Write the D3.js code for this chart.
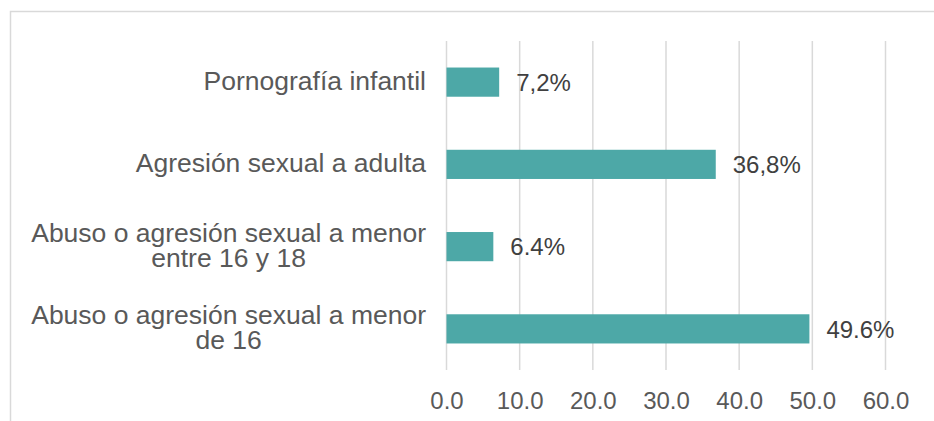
<!DOCTYPE html>
<html>
<head>
<meta charset="utf-8">
<script src="https://cdn.jsdelivr.net/npm/d3@7"></script>
<style>
  html, body { margin: 0; padding: 0; background: #fff; }
  svg { display: block; font-family: "Liberation Sans", Arial, sans-serif; }
</style>
</head>
<body>
<svg id="chart" width="934" height="421"></svg>
<script>
const categories = [
  ["Pornografía infantil"],
  ["Agresión sexual a adulta"],
  ["Abuso o agresión sexual a menor", "entre 16 y 18"],
  ["Abuso o agresión sexual a menor", "de 16"]
];
const values = [7.2, 36.8, 6.4, 49.6];
const valueLabels = ["7,2%", "36,8%", "6.4%", "49.6%"];
const ticks = [0, 10, 20, 30, 40, 50, 60];

const svg = d3.select("#chart");

// outer frame
svg.append("rect")
  .attr("x", 10.5).attr("y", 11.5)
  .attr("width", 960).attr("height", 440)
  .attr("fill", "none").attr("stroke", "#d9d9d9").attr("stroke-width", 1.5);

const x = d3.scaleLinear().domain([0, 60]).range([446.5, 885.5]);
const y = d3.scaleBand().domain(d3.range(categories.length)).range([41, 370]).paddingInner(0.645).paddingOuter(0.3225);

// gridlines
svg.append("g").selectAll("line").data(ticks).join("line")
  .attr("x1", d => x(d)).attr("x2", d => x(d))
  .attr("y1", 41).attr("y2", 370)
  .attr("stroke", "#d9d9d9").attr("stroke-width", 1.5);

// x axis tick labels
const xAxis = d3.axisBottom(x).tickValues(ticks).tickFormat(d3.format(".1f")).tickSize(0).tickPadding(0);
const gx = svg.append("g").attr("transform", "translate(0,392)").call(xAxis);
gx.select(".domain").remove();
gx.selectAll("text")
  .attr("font-size", 24).attr("fill", "#595959")
  .attr("font-family", "Liberation Sans, Arial, sans-serif")
  .attr("dy", "0.71em").attr("y", 0);

// bars
svg.append("g").selectAll("rect").data(values).join("rect")
  .attr("x", x(0))
  .attr("y", (d, i) => y(i))
  .attr("width", d => x(d) - x(0))
  .attr("height", y.bandwidth())
  .attr("fill", "#4da8a7");

// value labels
svg.append("g").selectAll("text").data(values).join("text")
  .attr("x", d => x(d) + 17)
  .attr("y", (d, i) => y(i) + y.bandwidth() / 2)
  .attr("dy", "0.36em")
  .attr("font-size", 24).attr("fill", "#404040")
  .text((d, i) => valueLabels[i]);

// category labels
const rightEdge = 426;
const lineH = 25;
categories.forEach((lines, i) => {
  const cy = y(i) + y.bandwidth() / 2 - 2;
  const t = svg.append("text")
    .attr("font-size", 26.5).attr("fill", "#595959")
    .attr("text-anchor", "middle");
  const n = lines.length;
  const tspans = lines.map((s, k) => t.append("tspan")
    .attr("y", cy + (k - (n - 1) / 2) * lineH)
    .attr("dy", "0.36em")
    .text(s));
  let maxW = 0;
  tspans.forEach(ts => { maxW = Math.max(maxW, ts.node().getComputedTextLength()); });
  tspans.forEach(ts => ts.attr("x", rightEdge - maxW / 2));
});
</script>
</body>
</html>
